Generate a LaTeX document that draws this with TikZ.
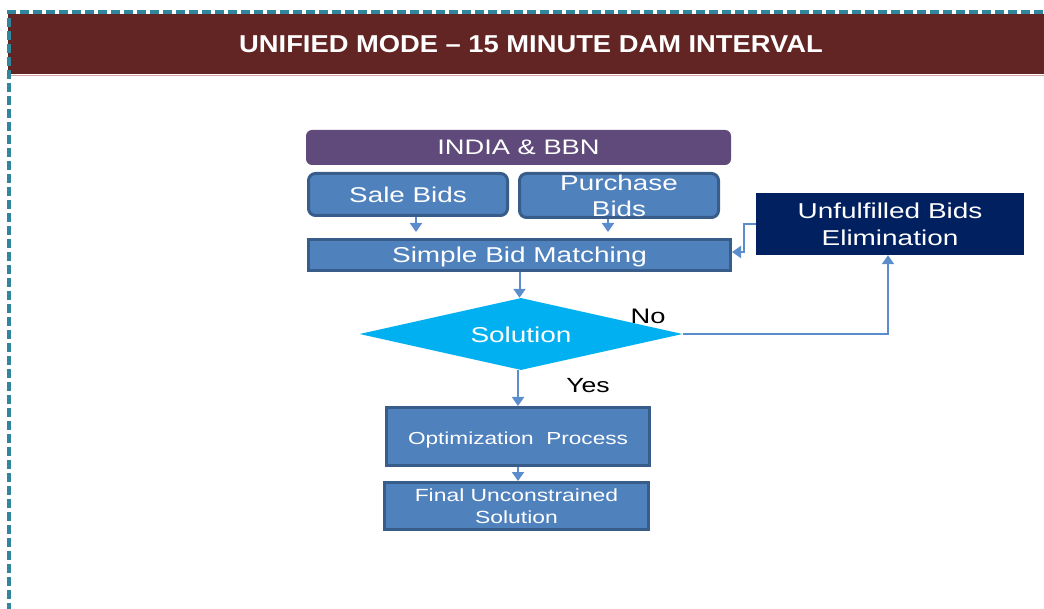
\documentclass[tikz,border=0pt]{standalone}
\usepackage{fontspec}
\setmainfont{Liberation Sans}
\newfontfamily\widesans{Liberation Sans}[FakeStretch=1.3]
\newfontfamily\titlesans{Liberation Sans}[FakeStretch=1.12]
\usetikzlibrary{shapes.geometric,arrows.meta}
\definecolor{frameteal}{HTML}{31859C}
\definecolor{titlered}{HTML}{632523}
\definecolor{titleline}{HTML}{D9A5A4}
\definecolor{regionpurple}{HTML}{604A7B}
\definecolor{boxblue}{HTML}{4F81BD}
\definecolor{boxedge}{HTML}{385D8A}
\definecolor{navy}{HTML}{002060}
\definecolor{decisioncyan}{HTML}{00B0F0}
\definecolor{linkblue}{HTML}{5B8CCB}
% lower a label inside its node without changing the node size
\newcommand{\lowerby}[2]{\raisebox{-#1}[\height][\depth]{#2}}
\tikzset{
  txt/.style={text=white,font=\widesans\fontsize{21.5}{26}\selectfont,align=center,inner sep=0pt},
  regionbox/.style={txt,fill=regionpurple,rounded corners=6pt,font=\widesans\fontsize{21}{26}\selectfont},
  bidbox/.style={txt,fill=boxblue,draw=boxedge,line width=3pt,rounded corners=7pt,font=\widesans\fontsize{21.4}{26}\selectfont},
  procbox/.style={txt,fill=boxblue,draw=boxedge,line width=3pt},
  elimbox/.style={txt,fill=navy,font=\widesans\fontsize{21.5}{27}\selectfont},
  decision/.style={txt,diamond,fill=decisioncyan,aspect=4.49,minimum width=323pt,minimum height=72pt},
  link/.style={draw=linkblue,line width=2pt,-{Triangle[width=12pt,length=9pt]}},
  lbl/.style={font=\widesans\fontsize{21}{25}\selectfont,inner sep=0pt}
}
\begin{document}
\begin{tikzpicture}[x=1pt,y=-1pt]
\useasboundingbox (0,0) rectangle (1044,609);
% frame and title bar
\fill[titlered] (8,14) rectangle (1044,74);
\draw[titleline,line width=1.5pt] (8,75.5) -- (1044,75.5);
\draw[frameteal,line width=3.5pt,dash pattern=on 9pt off 4pt] (9,612) -- (9,12) -- (1044,12);
\node[text=white,inner sep=0pt,font=\titlesans\fontsize{24.4}{28}\selectfont\bfseries] (title) at (531,44) {UNIFIED MODE – 15 MINUTE DAM INTERVAL};

% flow chart
\node[regionbox,minimum width=425pt,minimum height=35pt] (region) at (518.5,147.5) {INDIA \& BBN};
\node[bidbox,minimum width=199pt,minimum height=42pt] (sale) at (408,194.5) {Sale Bids};
\node[bidbox,minimum width=199pt,minimum height=44pt] (purchase) at (619,195.5) {Purchase\\Bids};
\node[procbox,minimum width=422pt,minimum height=31pt] (match) at (519.5,255) {\lowerby{2pt}{Simple Bid Matching}};
\node[elimbox,minimum width=268pt,minimum height=62pt] (elim) at (890,224) {Unfulfilled Bids\\Elimination};
\node[decision] (sol) at (521,334) {\lowerby{1pt}{Solution}};
\node[procbox,minimum width=263pt,minimum height=58pt,font=\widesans\fontsize{17.4}{22}\selectfont] (opt) at (518,436.5) {\lowerby{4pt}{Optimization\ \ Process}};
\node[procbox,minimum width=264pt,minimum height=47pt,font=\widesans\fontsize{17.6}{22}\selectfont] (final) at (516.5,506) {\lowerby{2pt}{\begin{tabular}{@{}c@{}}Final Unconstrained\\Solution\end{tabular}}};

\node[lbl] (no) at (648,316) {No};
\node[lbl,font=\widesans\fontsize{20.5}{25}\selectfont] (yes) at (588,386) {Yes};

% connectors
\draw[link,shorten >=6pt] ([xshift=8pt]sale.south) -- ([xshift=8pt]sale.south |- match.north);
\draw[link,shorten >=6pt] ([xshift=-11pt]purchase.south) -- ([xshift=-11pt]purchase.south |- match.north);
\draw[link] (elim.west) -- ++(-12,0) |- ([yshift=3pt]match.east);
\draw[link] (match.south) -- (match.south |- sol.north);
\draw[link] (sol.east) -| ([xshift=-2pt]elim.south);
\draw[link] (sol.south -| opt.north) -- (opt.north);
\draw[link] (opt.south) -- (opt.south |- final.north);
\end{tikzpicture}
\end{document}
